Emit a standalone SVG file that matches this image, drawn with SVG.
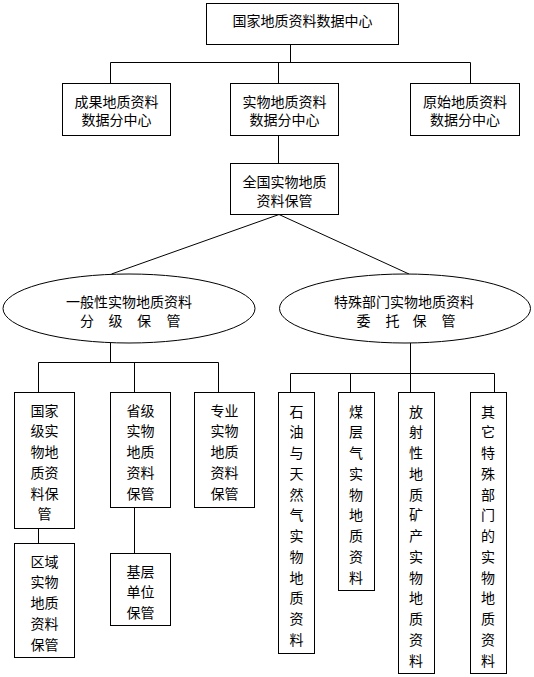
<svg xmlns="http://www.w3.org/2000/svg" width="534" height="677" viewBox="0 0 534 677">
<style>
.b{fill:#fff;stroke:#000;stroke-width:1}
.c{fill:none;stroke:#000;stroke-width:1}
text{font-family:"Noto Sans CJK SC","Noto Sans CJK JP",sans-serif;font-size:14px;fill:#000;text-anchor:middle;dominant-baseline:central}
</style>
<rect width="534" height="677" fill="#fff"/>
<g id="connectors">
<path class="c" d="M290.5 44.5V62.5M110.5 83.5V62.5H470.5V83.5M278.5 62.5V83.5"/>
<path class="c" d="M278.5 135.5V163.5"/>
<path class="c" d="M111.5 274L279 214.5L409 274"/>
<path class="c" d="M110.5 343V362.5M38.5 392.5V362.5H218.5V392.5M134.5 362.5V392.5"/>
<path class="c" d="M38.5 528.5V543.5M134.5 507.5V553.5"/>
<path class="c" d="M410.5 343V392.5M290.5 392.5V373.5H494.5V392.5M350.5 373.5V392.5"/>
</g>
<g id="n-top">
<rect class="b" x="206.5" y="3.5" width="192" height="41"/>
<text x="302.5" y="19.5">国家地质资料数据中心</text>
</g>
<g id="n-chengguo">
<rect class="b" x="62.5" y="83.5" width="108" height="52"/>
<text x="116.5" y="100.5">成果地质资料</text>
<text x="116.5" y="119">数据分中心</text>
</g>
<g id="n-shiwu">
<rect class="b" x="230.5" y="83.5" width="108" height="52"/>
<text x="284.5" y="100.5">实物地质资料</text>
<text x="284.5" y="119">数据分中心</text>
</g>
<g id="n-yuanshi">
<rect class="b" x="410.5" y="83.5" width="109" height="52"/>
<text x="465" y="100.5">原始地质资料</text>
<text x="465" y="119">数据分中心</text>
</g>
<g id="n-quanguo">
<rect class="b" x="230.5" y="163.5" width="108" height="51"/>
<text x="284.5" y="181">全国实物地质</text>
<text x="284.5" y="199.5">资料保管</text>
</g>
<g id="n-yiban">
<ellipse class="b" cx="129" cy="308.5" rx="126" ry="34.5"/>
<text x="129" y="300.5">一般性实物地质资料</text>
<text y="320"><tspan x="87">分</tspan><tspan x="115.5">级</tspan><tspan x="144">保</tspan><tspan x="173.5">管</tspan></text>
</g>
<g id="n-teshu">
<ellipse class="b" cx="405" cy="308.5" rx="125.5" ry="34.5"/>
<text x="404" y="300.5">特殊部门实物地质资料</text>
<text y="320"><tspan x="363.5">委</tspan><tspan x="392.5">托</tspan><tspan x="419.5">保</tspan><tspan x="448.5">管</tspan></text>
</g>
<g id="n-guojia">
<rect class="b" x="14.5" y="392.5" width="60" height="136"/>
<text x="44.5"><tspan x="44.5" y="409.5">国家</tspan><tspan x="44.5" y="430.3">级实</tspan><tspan x="44.5" y="451">物地</tspan><tspan x="44.5" y="471.8">质资</tspan><tspan x="44.5" y="492.5">料保</tspan><tspan x="44.5" y="513.3">管</tspan></text>
</g>
<g id="n-quyu">
<rect class="b" x="14.5" y="543.5" width="60" height="114"/>
<text><tspan x="44.5" y="560.5">区域</tspan><tspan x="44.5" y="581.2">实物</tspan><tspan x="44.5" y="602">地质</tspan><tspan x="44.5" y="622.7">资料</tspan><tspan x="44.5" y="643.5">保管</tspan></text>
</g>
<g id="n-shengji">
<rect class="b" x="110.5" y="392.5" width="60" height="115"/>
<text><tspan x="140.5" y="409.5">省级</tspan><tspan x="140.5" y="430.3">实物</tspan><tspan x="140.5" y="451">地质</tspan><tspan x="140.5" y="471.8">资料</tspan><tspan x="140.5" y="492.5">保管</tspan></text>
</g>
<g id="n-jiceng">
<rect class="b" x="110.5" y="553.5" width="60" height="72"/>
<text><tspan x="140.5" y="570.5">基层</tspan><tspan x="140.5" y="591">单位</tspan><tspan x="140.5" y="611.5">保管</tspan></text>
</g>
<g id="n-zhuanye">
<rect class="b" x="194.5" y="392.5" width="60" height="115"/>
<text><tspan x="224.5" y="409.5">专业</tspan><tspan x="224.5" y="430.3">实物</tspan><tspan x="224.5" y="451">地质</tspan><tspan x="224.5" y="471.8">资料</tspan><tspan x="224.5" y="492.5">保管</tspan></text>
</g>
<g id="n-shiyou">
<rect class="b" x="278.5" y="392.5" width="36" height="261"/>
<text><tspan x="296.5" y="410.5">石</tspan><tspan x="296.5" y="431.2">油</tspan><tspan x="296.5" y="452">与</tspan><tspan x="296.5" y="472.7">天</tspan><tspan x="296.5" y="493.5">然</tspan><tspan x="296.5" y="514.2">气</tspan><tspan x="296.5" y="535">实</tspan><tspan x="296.5" y="555.7">物</tspan><tspan x="296.5" y="576.5">地</tspan><tspan x="296.5" y="597.2">质</tspan><tspan x="296.5" y="618">资</tspan><tspan x="296.5" y="638.7">料</tspan></text>
</g>
<g id="n-meiceng">
<rect class="b" x="338.5" y="392.5" width="36" height="198"/>
<text><tspan x="356" y="410.5">煤</tspan><tspan x="356" y="431.2">层</tspan><tspan x="356" y="452">气</tspan><tspan x="356" y="472.7">实</tspan><tspan x="356" y="493.5">物</tspan><tspan x="356" y="514.2">地</tspan><tspan x="356" y="535">质</tspan><tspan x="356" y="555.7">资</tspan><tspan x="356" y="576.5">料</tspan></text>
</g>
<g id="n-fangshe">
<rect class="b" x="398.5" y="392.5" width="36" height="281"/>
<text><tspan x="416" y="410.5">放</tspan><tspan x="416" y="431.2">射</tspan><tspan x="416" y="452">性</tspan><tspan x="416" y="472.7">地</tspan><tspan x="416" y="493.5">质</tspan><tspan x="416" y="514.2">矿</tspan><tspan x="416" y="535">产</tspan><tspan x="416" y="555.7">实</tspan><tspan x="416" y="576.5">物</tspan><tspan x="416" y="597.2">地</tspan><tspan x="416" y="618">质</tspan><tspan x="416" y="638.7">资</tspan><tspan x="416" y="659.5">料</tspan></text>
</g>
<g id="n-qita">
<rect class="b" x="470.5" y="392.5" width="36" height="281"/>
<text><tspan x="488" y="410.5">其</tspan><tspan x="488" y="431.2">它</tspan><tspan x="488" y="452">特</tspan><tspan x="488" y="472.7">殊</tspan><tspan x="488" y="493.5">部</tspan><tspan x="488" y="514.2">门</tspan><tspan x="488" y="535">的</tspan><tspan x="488" y="555.7">实</tspan><tspan x="488" y="576.5">物</tspan><tspan x="488" y="597.2">地</tspan><tspan x="488" y="618">质</tspan><tspan x="488" y="638.7">资</tspan><tspan x="488" y="659.5">料</tspan></text>
</g>
</svg>
